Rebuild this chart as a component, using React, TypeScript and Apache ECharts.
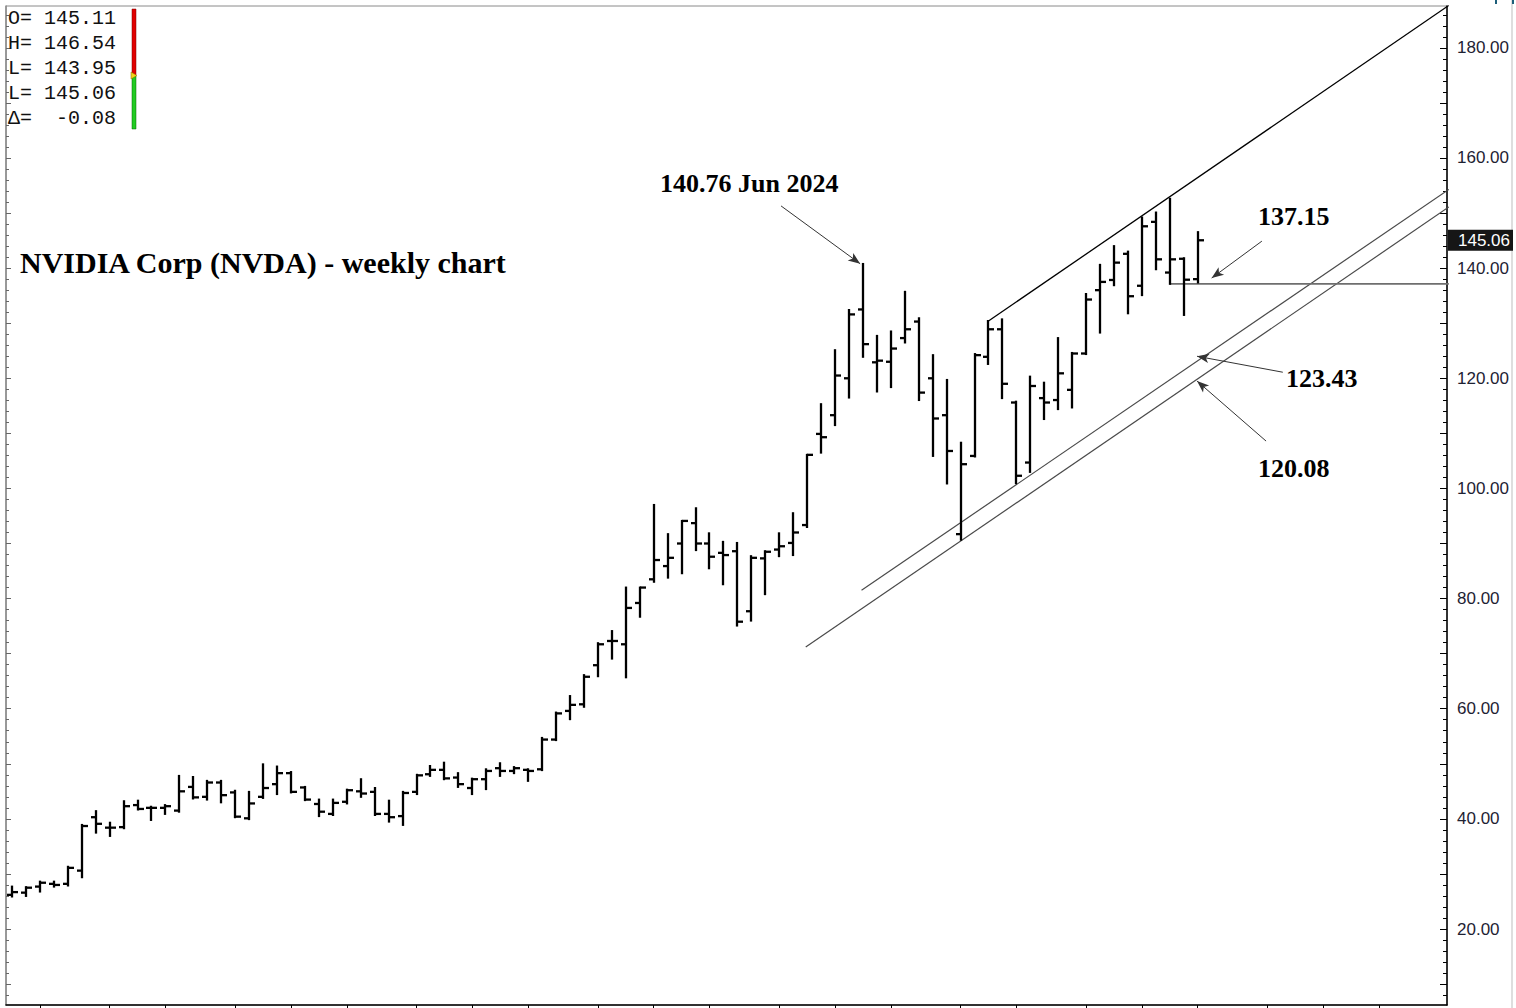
import React, { useEffect, useRef } from "react";
import * as echarts from "echarts";

// ---- data (weekly NVDA bars, split-adjusted) ----
const firstWeekMonday = "2023-04-17";
const axisSlots = 103; // weekly slots along the x axis (data + empty space to the right)

const opens = [
  26.2, 26.6, 27.7, 28.2, 28.2, 30.6, 40.3, 38.4, 38.5, 42.5,
  42.0, 42.0, 41.5, 45.8, 44.0, 46.6, 44.8, 40.1, 44.0, 46.3,
  48.3, 45.7, 42.7, 40.9, 43.1, 45.0, 44.9, 40.9, 40.5, 44.9,
  48.1, 48.9, 47.5, 45.6, 47.2, 49.2, 48.7, 48.9, 49.0, 54.4,
  59.6, 60.8, 67.9, 72.3, 71.7, 79.2, 83.5, 85.9, 90.0, 93.7,
  90.0, 88.3, 88.6, 77.7, 87.3, 88.9, 90.1, 93.35, 109.9, 113.3,
  120.0, 132.5, 122.9, 123.0, 127.3, 130.3, 120.0, 113.3, 91.7, 105.9,
  123.9, 128.9, 115.6, 104.7, 116.4, 116.05, 117.9, 124.5, 136.0, 137.85,
  142.6, 136.8, 148.4, 139.2, 141.7, 138.0,
];
const highs = [
  27.7, 27.6, 28.6, 28.6, 31.3, 38.9, 41.4, 39.3, 43.2, 43.3,
  42.2, 42.5, 47.8, 47.6, 46.9, 46.9, 45.1, 44.9, 49.9, 49.5,
  48.5, 45.8, 43.5, 43.5, 45.3, 47.2, 45.6, 43.3, 44.9, 48.0,
  49.6, 50.2, 48.3, 47.3, 49.0, 50.1, 49.4, 49.0, 54.7, 59.3,
  62.3, 66.1, 71.9, 74.1, 82.0, 82.0, 97.0, 91.7, 94.1, 96.4,
  91.85, 90.3, 90.1, 87.7, 88.6, 91.85, 95.5, 106.1, 115.3, 125.1,
  132.4, 140.76, 127.7, 128.5, 135.7, 130.9, 124.2, 119.7, 108.3, 124.4,
  130.4, 130.7, 115.75, 120.3, 119.2, 127.3, 124.6, 135.3, 140.6, 144.0,
  143.0, 149.2, 150.1, 152.6, 141.8, 146.54,
];
const lows = [
  25.9, 26.0, 26.8, 27.7, 27.9, 29.4, 37.5, 36.9, 38.3, 41.7,
  39.8, 40.9, 41.3, 43.7, 43.5, 43.0, 40.3, 39.95, 43.8, 44.5,
  44.8, 43.4, 40.5, 40.7, 42.8, 44.0, 40.7, 39.5, 38.9, 44.5,
  47.8, 47.2, 45.8, 44.5, 45.4, 47.8, 48.3, 46.9, 48.85, 54.3,
  58.1, 60.35, 65.9, 69.1, 65.7, 76.7, 83.05, 83.8, 84.6, 88.8,
  85.5, 82.6, 75.1, 76.0, 80.8, 87.7, 87.9, 93.0, 106.5, 111.5,
  116.5, 123.9, 117.6, 118.4, 126.5, 116.05, 105.9, 100.9, 90.69, 105.8,
  122.6, 116.4, 100.95, 103.0, 112.6, 114.4, 114.7, 124.4, 128.3, 136.9,
  131.8, 135.1, 139.8, 137.15, 131.5, 137.4,
];
const closes = [
  26.7, 27.5, 28.4, 28.0, 31.1, 38.7, 39.1, 38.4, 42.3, 41.8,
  42.0, 42.3, 45.0, 43.9, 46.6, 44.3, 40.4, 42.8, 45.6, 48.3,
  44.9, 43.5, 41.3, 42.9, 45.2, 44.6, 40.9, 40.3, 44.7, 47.9,
  48.9, 47.35, 46.3, 47.2, 48.7, 48.7, 49.2, 48.7, 54.4, 59.15,
  60.7, 65.8, 71.7, 72.3, 78.3, 82.0, 87.0, 87.4, 94.1, 90.0,
  87.6, 87.9, 75.8, 87.4, 88.5, 89.5, 92.0, 106.1, 109.3, 120.5,
  131.6, 126.2, 123.2, 125.4, 128.9, 117.4, 112.7, 106.8, 104.4, 124.2,
  128.9, 119.0, 102.3, 118.6, 115.6, 120.9, 124.5, 134.3, 137.5, 141.0,
  134.9, 147.6, 141.6, 141.6, 137.9, 145.06,
];

// last (daily) quote shown in the data window
const quoteLabels = ["O=", "H=", "L=", "L=", "\u0394="];
const quoteValues = [145.11, 146.54, 143.95, 145.06, -0.08];

// y axis
const yMin = 6.2;
const yMax = 187.6;
const yLabelValues = [20, 40, 60, 80, 100, 120, 140, 160, 180];

// trend lines: [week index, price]
const upperChannel = [[70, 130.4], [103, 187.7]];
const lowerChannelA = [[60.9, 81.5], [103, 154.3]];
const lowerChannelB = [[56.9, 71.2], [103, 151.1]];
const supportLine = [[83, 137.15], [103, 137.15]];

// annotation arrows: tail -> head in [week index, price]
const arrowTails = [[55.13, 151.3], [89.6, 144.9], [91.1, 121.1], [89.9, 108.6]];
const arrowHeads = [[60.8, 140.8], [86.0, 138.2], [84.95, 124.0], [84.95, 119.5]];

const titleText = "NVIDIA Corp (NVDA) - weekly chart";
const noteTexts = ["140.76 Jun 2024", "137.15", "123.43", "120.08"];

function weekDate(i: number): Date {
  const [y, m, d] = firstWeekMonday.split("-").map(Number);
  return new Date(Date.UTC(y, m - 1, d) + i * 7 * 86400000);
}

export default function App() {
  const ref = useRef<HTMLDivElement>(null);

  useEffect(() => {
    if (!ref.current) return;
    const chart = echarts.init(ref.current, undefined, { renderer: "svg" });

    const monthTicks: number[] = [];
    for (let i = 1; i < axisSlots; i++) {
      if (weekDate(i).getUTCMonth() !== weekDate(i - 1).getUTCMonth()) monthTicks.push(i);
    }
    const tens: number[] = [];
    for (let v = 10; v <= 180; v += 10) tens.push(v);
    const twos: number[] = [];
    for (let v = 8; v <= 186; v += 2) twos.push(v);

    const ohlc = opens.map((o, i) => [i, o, highs[i], lows[i], closes[i]]);

    const sansFont = '"Liberation Sans", Arial, sans-serif';
    const monoFont = '"Liberation Mono", "DejaVu Sans Mono", monospace';
    const serifFont = '"Liberation Serif", "Times New Roman", serif';

    const gridBox = { left: 6, top: 6, width: 1441, height: 999 };
    const xRange = { min: -0.43, max: 102.87 };

    const yAxisBase = {
      type: "value",
      min: yMin,
      max: yMax,
      splitLine: { show: false },
      axisLabel: { show: false },
    };

    chart.setOption({
      animation: false,
      backgroundColor: "#ffffff",
      grid: [
        {
          ...gridBox,
          show: true,
          borderColor: "#8a8a8a",
          borderWidth: 1,
          backgroundColor: "#ffffff",
        },
        { ...gridBox, show: false },
      ],
      xAxis: [
        {
          type: "value",
          gridIndex: 0,
          ...xRange,
          splitLine: { show: false },
          axisLine: { show: true, lineStyle: { color: "#000", width: 1.5 } },
          axisTick: { show: true, length: 4, customValues: monthTicks, lineStyle: { color: "#000" } },
          axisLabel: { show: false },
        },
        {
          type: "value",
          gridIndex: 1,
          ...xRange,
          show: false,
        },
      ],
      yAxis: [
        {
          ...yAxisBase,
          gridIndex: 0,
          position: "right",
          axisLine: { show: true, onZero: false, lineStyle: { color: "#000", width: 1.5 } },
          axisTick: { show: true, inside: true, length: 7, customValues: tens, lineStyle: { color: "#000" } },
          axisLabel: {
            show: true,
            customValues: yLabelValues,
            formatter: (v: number) => v.toFixed(2),
            color: "#1e2233",
            fontFamily: sansFont,
            fontSize: 17,
            margin: 10,
          },
        },
        {
          ...yAxisBase,
          gridIndex: 0,
          position: "left",
          axisLine: { show: true, onZero: false, lineStyle: { color: "#8a8a8a", width: 1.5 } },
          axisTick: { show: true, inside: true, length: 5, customValues: tens, lineStyle: { color: "#666" } },
        },
        {
          ...yAxisBase,
          gridIndex: 1,
          position: "right",
          axisLine: { show: false, onZero: false },
          axisTick: { show: true, inside: true, length: 4, customValues: twos, lineStyle: { color: "#000" } },
        },
        {
          ...yAxisBase,
          gridIndex: 1,
          position: "left",
          axisLine: { show: false, onZero: false },
          axisTick: { show: true, inside: true, length: 3, customValues: twos, lineStyle: { color: "#666" } },
        },
      ],
      series: [
        {
          type: "line",
          data: lowerChannelB,
          symbol: "none",
          lineStyle: { color: "#4a4a4a", width: 1.2 },
          silent: true,
          z: 1,
        },
        {
          type: "line",
          data: lowerChannelA,
          symbol: "none",
          lineStyle: { color: "#4a4a4a", width: 1.2 },
          silent: true,
          z: 1,
        },
        {
          type: "line",
          data: upperChannel,
          symbol: "none",
          lineStyle: { color: "#000", width: 1.3 },
          silent: true,
          z: 1,
        },
        {
          type: "line",
          data: supportLine,
          symbol: "none",
          lineStyle: { color: "#6e6e6e", width: 1.6 },
          silent: true,
          z: 1,
          markLine: {
            silent: true,
            symbol: ["none", "arrow"],
            symbolSize: [7, 12],
            lineStyle: { color: "#333", width: 1, type: "solid" },
            label: { show: false },
            data: arrowTails.map((t, i) => [{ coord: t }, { coord: arrowHeads[i] }]),
          },
        },
        {
          type: "custom",
          data: ohlc,
          encode: { x: 0, y: [1, 2, 3, 4] },
          z: 5,
          renderItem: (_params: any, api: any) => {
            const k = api.value(0);
            const o = api.coord([k, api.value(1)]);
            const h = api.coord([k, api.value(2)]);
            const l = api.coord([k, api.value(3)]);
            const c = api.coord([k, api.value(4)]);
            const x = Math.round(o[0]);
            const style = { stroke: "#000", lineWidth: 2.3, fill: null };
            return {
              type: "group",
              children: [
                { type: "line", shape: { x1: x, y1: h[1] - 1, x2: x, y2: l[1] + 1 }, style },
                { type: "line", shape: { x1: x - 5, y1: o[1], x2: x, y2: o[1] }, style },
                { type: "line", shape: { x1: x, y1: c[1], x2: x + 6, y2: c[1] }, style },
              ],
            };
          },
        },
      ],
    });

    const lastClose = closes[closes.length - 1];
    const tagY = chart.convertToPixel({ yAxisIndex: 0 }, lastClose) as number;

    const quoteTexts = quoteValues.map((v, i) => ({
      type: "text",
      x: 8,
      y: 18 + i * 25,
      style: {
        text: `${quoteLabels[i]}${i === 4 ? "  " : " "}${v.toFixed(2)}`,
        fontFamily: monoFont,
        fontSize: 20,
        fill: "#111",
        textVerticalAlign: "middle",
      },
      z: 10,
    }));

    const noteStyle = { fontFamily: serifFont, fontSize: 26, fontWeight: "bold", fill: "#000", textVerticalAlign: "middle" };
    const notePos = [[660, 183], [1258, 216], [1286, 378], [1258, 468]];

    chart.setOption({
      graphic: [
        ...quoteTexts,
        { type: "rect", shape: { x: 132, y: 9, width: 4, height: 66 }, style: { fill: "#e10000", stroke: "#700", lineWidth: 0.5 }, z: 10 },
        { type: "rect", shape: { x: 132, y: 76, width: 4, height: 53 }, style: { fill: "#22cc22", stroke: "#060", lineWidth: 0.5 }, z: 10 },
        { type: "polygon", shape: { points: [[131, 72], [137, 75.5], [131, 79]] }, style: { fill: "#f2d21b", stroke: "#8a6d00", lineWidth: 0.5 }, z: 11 },
        {
          type: "text",
          x: 20,
          y: 262,
          style: { text: titleText, fontFamily: serifFont, fontSize: 30, fontWeight: "bold", fill: "#000", textVerticalAlign: "middle" },
          z: 10,
        },
        ...noteTexts.map((t, i) => ({
          type: "text",
          x: notePos[i][0],
          y: notePos[i][1],
          style: { ...noteStyle, text: t },
          z: 10,
        })),
        { type: "rect", shape: { x: 1448, y: tagY - 10.5, width: 65, height: 21 }, style: { fill: "#161616" }, z: 10 },
        {
          type: "text",
          x: 1510,
          y: tagY,
          style: { text: lastClose.toFixed(2), fontFamily: sansFont, fontSize: 17, fill: "#fff", textAlign: "right", textVerticalAlign: "middle" },
          z: 11,
        },
        { type: "rect", shape: { x: 1511, y: 0, width: 2, height: 1008 }, style: { fill: "#dedede" }, z: 9 },
        { type: "polyline", shape: { points: [[1496, 0], [1496, 4]] }, style: { stroke: "#1d5f7a", lineWidth: 2, fill: null }, z: 12 },
        { type: "polyline", shape: { points: [[1513, 0], [1513, 4]] }, style: { stroke: "#1d5f7a", lineWidth: 2, fill: null }, z: 12 },
      ],
    });

    return () => chart.dispose();
  }, []);

  return (
    <div
      ref={ref}
      style={{ position: "absolute", left: 0, top: 0, width: 1516, height: 1008, background: "#fff" }}
    />
  );
}
